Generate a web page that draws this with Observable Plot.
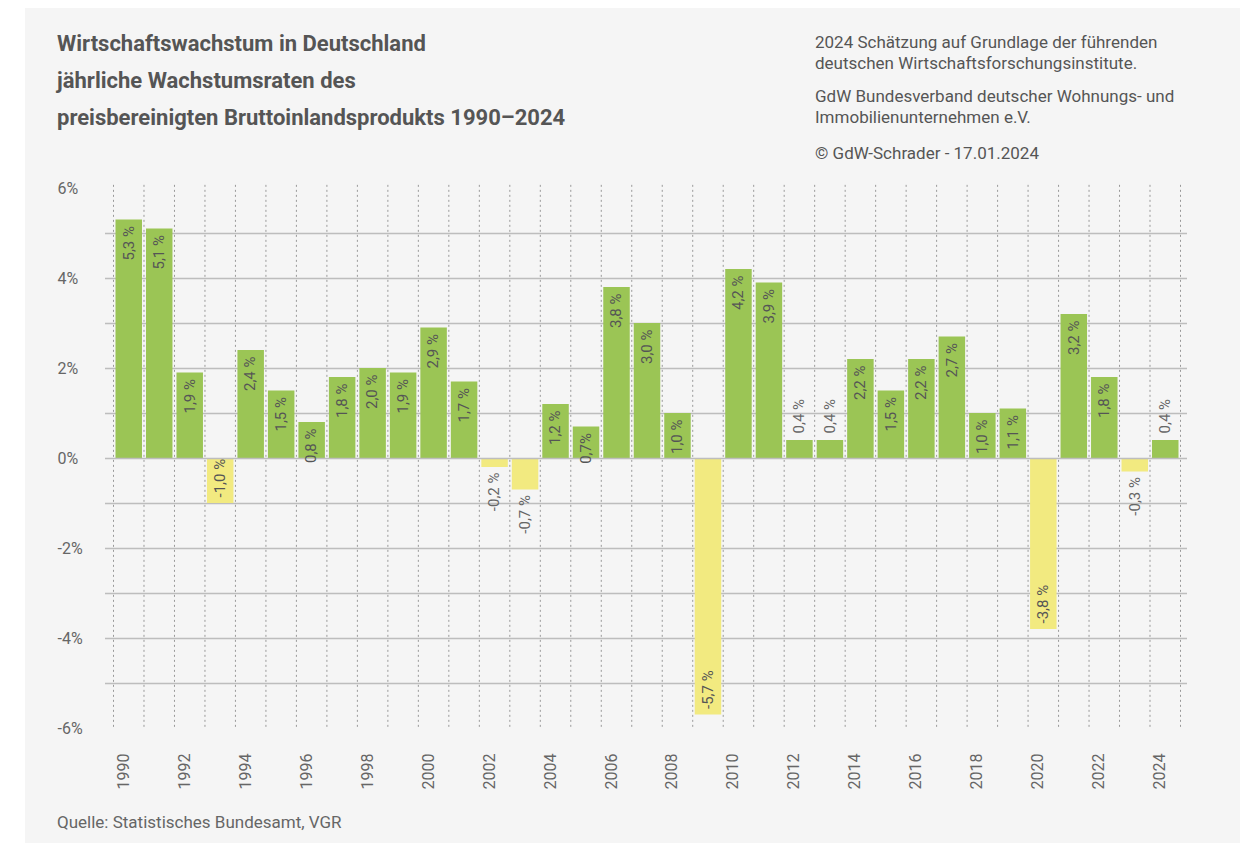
<!DOCTYPE html>
<html><head><meta charset="utf-8">
<script src="https://cdn.jsdelivr.net/npm/d3@7"></script>
<script src="https://cdn.jsdelivr.net/npm/@observablehq/plot@0.6"></script>
<style>
body{margin:0;background:#fff;font-family:Roboto,sans-serif;}
#panel{position:absolute;left:25px;top:8px;width:1215px;height:835px;background:#f5f5f5;overflow:hidden;}
#title{position:absolute;left:32px;top:17px;font-weight:700;font-size:22px;line-height:37px;color:#555;white-space:nowrap;}
#note{position:absolute;left:790px;top:24px;font-size:17px;line-height:21px;color:#555;white-space:nowrap;}
#note p{margin:0}
#source{position:absolute;left:32px;top:805px;font-size:17px;line-height:18px;color:#666;}
#chart{position:absolute;left:0;top:162px;}
</style></head>
<body>
<div id="panel">
  <div id="title">Wirtschaftswachstum in Deutschland<br>jährliche Wachstumsraten des<br>preisbereinigten Bruttoinlandsprodukts 1990–2024</div>
  <div id="note">
    <p>2024 Schätzung auf Grundlage der führenden<br>deutschen Wirtschaftsforschungsinstitute.</p>
    <p style="margin-top:12px">GdW Bundesverband deutscher Wohnungs- und<br>Immobilienunternehmen e.V.</p>
    <p style="margin-top:15px">© GdW-Schrader - 17.01.2024</p>
  </div>
  <div id="chart"></div>
  <div id="source">Quelle: Statistisches Bundesamt, VGR</div>
</div>
<script>
// ---- data ----
const years = [1990,1991,1992,1993,1994,1995,1996,1997,1998,1999,2000,2001,2002,2003,2004,2005,2006,2007,2008,2009,2010,2011,2012,2013,2014,2015,2016,2017,2018,2019,2020,2021,2022,2023,2024];
const growth = [5.3,5.1,1.9,-1.0,2.4,1.5,0.8,1.8,2.0,1.9,2.9,1.7,-0.2,-0.7,1.2,0.7,3.8,3.0,1.0,-5.7,4.2,3.9,0.4,0.4,2.2,1.5,2.2,2.7,1.0,1.1,-3.8,3.2,1.8,-0.3,0.4];
const valueLabels = ["5,3 %","5,1 %","1,9 %","-1,0 %","2,4 %","1,5 %","0,8 %","1,8 %","2,0 %","1,9 %","2,9 %","1,7 %","-0,2 %","-0,7 %","1,2 %","0,7%","3,8 %","3,0 %","1,0 %","-5,7 %","4,2 %","3,9 %","0,4 %","0,4 %","2,2 %","1,5 %","2,2 %","2,7 %","1,0 %","1,1 %","-3,8 %","3,2 %","1,8 %","-0,3 %","0,4 %"];
const yTickValues = [-6,-4,-2,0,2,4,6];
const yTickLabels = ["-6%","-4%","-2%","0%","2%","4%","6%"];
const gridLevels = [-5,-4,-3,-2,-1,0,1,2,3,4,5];
const xTickYears = [1990,1992,1994,1996,1998,2000,2002,2004,2006,2008,2010,2012,2014,2016,2018,2020,2022,2024];

const GREEN = "#9bc555", YELLOW = "#f2ea80";
const W = 1215, H = 630, mL = 88, mR = 60, mT = 18, mB = 72;
const bw = (W - mL - mR) / years.length;
const pxPerUnit = (H - mT - mB) / 12;

const data = years.map((year, i) => ({year, value: growth[i], label: valueLabels[i]}));
const fits = d => Math.abs(d.value) * pxPerUnit >= d.label.length * 7;
const posIn = data.filter(d => d.value >= 0 && fits(d));
const posOut = data.filter(d => d.value >= 0 && !fits(d));
const negIn = data.filter(d => d.value < 0 && fits(d));
const negOut = data.filter(d => d.value < 0 && !fits(d));

const chart = Plot.plot({
  width: W, height: H,
  marginLeft: mL, marginRight: mR, marginTop: mT, marginBottom: mB,
  style: {fontFamily: "Roboto, sans-serif", fontSize: "14px", background: "transparent", overflow: "visible"},
  x: {type: "band", domain: years, padding: 0, round: false, axis: null},
  y: {domain: [-6, 6], axis: null},
  marks: [
    Plot.ruleY(gridLevels.filter(v => v !== 0), {y: d => d, stroke: "#bdbdbd", strokeWidth: 1.3, insetLeft: -8, insetRight: -7}),
    Plot.ruleX(years, {x: d => d, y1: 6.07, y2: -6, dx: -bw / 2, stroke: "#999", strokeWidth: 1, strokeDasharray: "2,3"}),
    Plot.ruleX([years[years.length - 1]], {x: d => d, y1: 6.07, y2: -6, dx: bw / 2, stroke: "#999", strokeWidth: 1, strokeDasharray: "2,3"}),
    Plot.barY(data.filter(d => d.value >= 0), {x: "year", y: "value", fill: GREEN, insetLeft: 2.5, insetRight: 1.5}),
    Plot.barY(data.filter(d => d.value < 0), {x: "year", y: "value", fill: YELLOW, insetLeft: 2.5, insetRight: 1.5}),
    Plot.ruleY([0], {stroke: "#bdbdbd", strokeWidth: 1.3, insetLeft: -8, insetRight: -7}),
    Plot.text(posIn, {x: "year", y: "value", text: "label", rotate: -90, textAnchor: "end", dy: 6, fill: "#555", fontSize: 15}),
    Plot.text(posOut, {x: "year", y: "value", text: "label", rotate: -90, textAnchor: "start", dy: -7, fill: "#666", fontSize: 15}),
    Plot.text(negIn, {x: "year", y: "value", text: "label", rotate: -90, textAnchor: "start", dy: -6, fill: "#555", fontSize: 15}),
    Plot.text(negOut, {x: "year", y: "value", text: "label", rotate: -90, textAnchor: "end", dy: 5, fill: "#666", fontSize: 15}),
    Plot.text(yTickValues, {y: d => d, text: (d, i) => yTickLabels[i], frameAnchor: "left", textAnchor: "start", dx: -56, fill: "#666", fontSize: 16}),
    Plot.text(xTickYears, {x: d => d, text: d => String(d), frameAnchor: "bottom", rotate: -90, textAnchor: "end", dy: 25, fill: "#666", fontSize: 16})
  ]
});
document.getElementById("chart").appendChild(chart);
</script>
</body></html>
